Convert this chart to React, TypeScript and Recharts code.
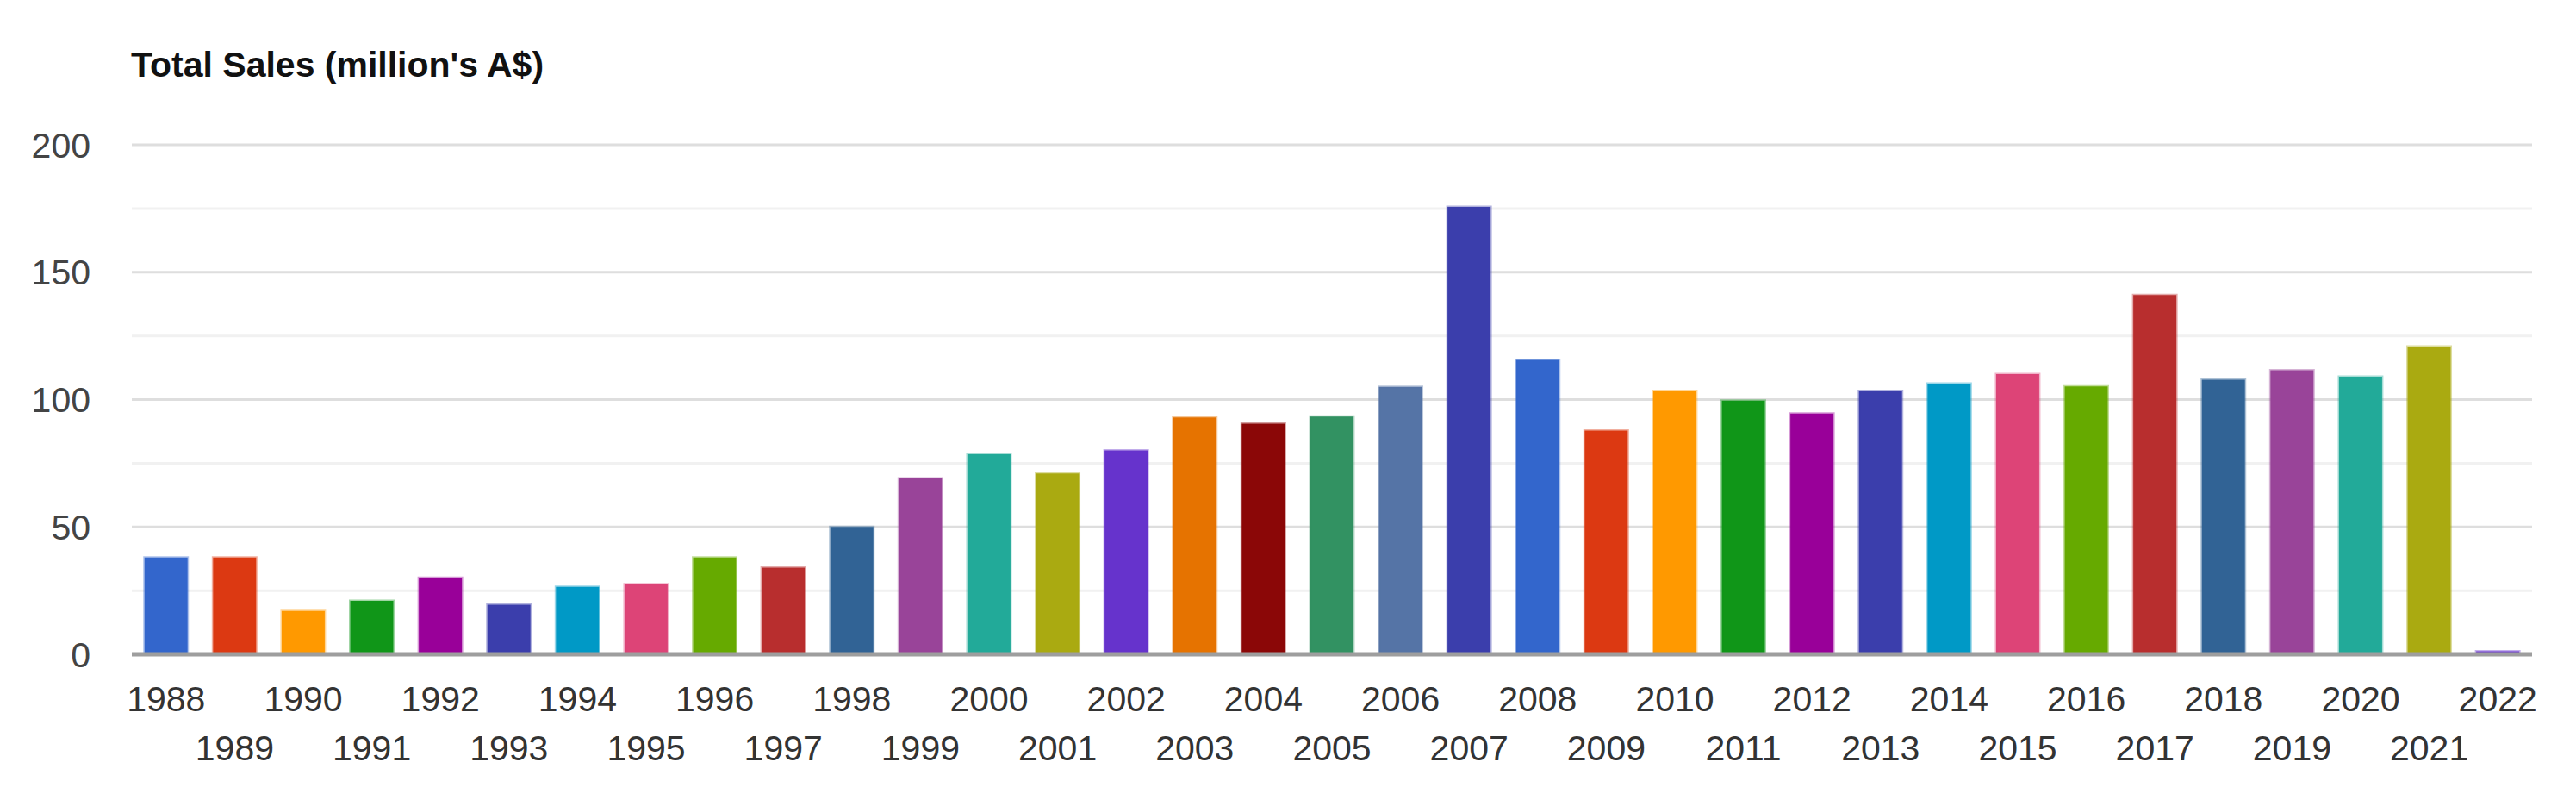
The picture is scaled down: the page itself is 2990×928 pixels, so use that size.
import React from 'react';
import {
  BarChart,
  Bar,
  Cell,
  XAxis,
  YAxis,
  CartesianGrid,
  ReferenceLine,
} from 'recharts';

const years = [
  '1988', '1989', '1990', '1991', '1992', '1993', '1994', '1995', '1996', '1997',
  '1998', '1999', '2000', '2001', '2002', '2003', '2004', '2005', '2006', '2007',
  '2008', '2009', '2010', '2011', '2012', '2013', '2014', '2015', '2016', '2017',
  '2018', '2019', '2020', '2021', '2022',
];

const sales = [
  38, 38, 17, 21, 30, 19.5, 26.5, 27.5, 38, 34,
  50, 69, 78.5, 71, 80, 93, 90.5, 93.3, 105, 175.6,
  115.6, 87.8, 103.4, 99.6, 94.5, 103.4, 106.3, 110, 105.2, 141,
  107.8, 111.5, 109, 120.8, 1.2,
];

// Google Charts style palette, one colour per bar
const COLORS = [
  '#3366cc', '#dc3912', '#ff9900', '#109618', '#990099',
  '#3b3eac', '#0099c6', '#dd4477', '#66aa00', '#b82e2e',
  '#316395', '#994499', '#22aa99', '#aaaa11', '#6633cc',
  '#e67300', '#8b0707', '#329262', '#5574a6', '#3b3eac',
];

const yTicks = [0, 50, 100, 150, 200];
const minorLines = [25, 75, 125, 175];
const majorLines = [50, 100, 150, 200];

const FONT = '"Liberation Sans", Arial, sans-serif';

const data = years.map((year, i) => ({ year, sales: sales[i] }));

// two staggered rows of year labels
const YearTick = (props: any) => {
  const { x, y, payload, index } = props;
  const off = index % 2 === 0 ? 66 : 123;
  return (
    <text
      x={x}
      y={y + off}
      textAnchor="middle"
      fill="#333"
      fontSize={41}
      fontFamily={FONT}
    >
      {payload.value}
    </text>
  );
};

export default function App() {
  return (
    <div style={{ position: 'relative', width: 2990, height: 928, background: '#fff' }}>
      <style>{'body{margin:0}'}</style>
      <div
        style={{
          position: 'absolute',
          left: 152,
          top: 55,
          fontFamily: FONT,
          fontWeight: 'bold',
          fontSize: 41,
          lineHeight: '41px',
          color: '#111',
          whiteSpace: 'nowrap',
        }}
      >
        Total Sales (million's A$)
      </div>
      <BarChart
        width={2990}
        height={928}
        data={data}
        margin={{ top: 168, right: 51, bottom: 0, left: 0 }}
        barCategoryGap="18.5%"
      >
        <CartesianGrid
          vertical={false}
          horizontalValues={minorLines}
          stroke="#f1f1f1"
          strokeWidth={3}
        />
        <CartesianGrid
          vertical={false}
          horizontalValues={majorLines}
          stroke="#dedede"
          strokeWidth={3}
        />
        <XAxis
          dataKey="year"
          interval={0}
          height={169}
          axisLine={false}
          tickLine={false}
          tickSize={0}
          tickMargin={0}
          tick={<YearTick />}
        />
        <YAxis
          width={153}
          domain={[0, 200]}
          ticks={yTicks}
          axisLine={false}
          tickLine={false}
          tickSize={0}
          tickMargin={48}
          tick={{ fill: '#444', fontSize: 41, fontFamily: FONT }}
        />
        <Bar dataKey="sales" isAnimationActive={false} strokeWidth={3}>
          {data.map((d, i) => (
            <Cell
              key={d.year}
              fill={COLORS[i % COLORS.length]}
              stroke={COLORS[i % COLORS.length]}
              strokeOpacity={0.4}
            />
          ))}
        </Bar>
        <ReferenceLine y={0} stroke="#9e9e9e" strokeWidth={5} />
      </BarChart>
    </div>
  );
}
